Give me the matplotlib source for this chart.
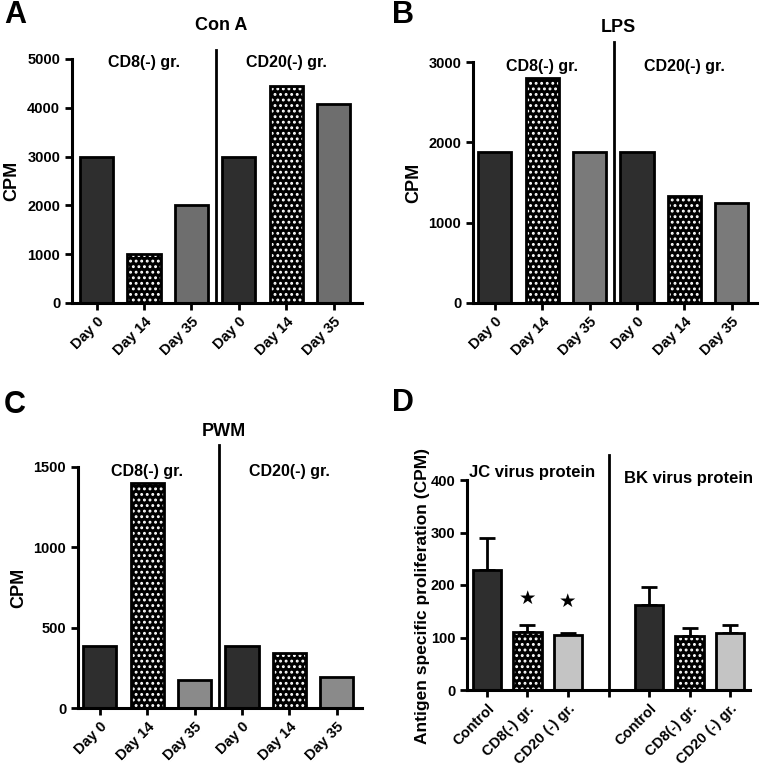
import matplotlib.pyplot as plt
import numpy as np

plt.rcParams['font.family'] = ['Liberation Sans', 'DejaVu Sans']
plt.rcParams['font.weight'] = 'bold'
plt.rcParams['hatch.linewidth'] = 1.3

days = ['Day 0', 'Day 14', 'Day 35', 'Day 0', 'Day 14', 'Day 35']
con_a = [3000, 1000, 2000, 3000, 4450, 4080]
lps = [1880, 2800, 1880, 1880, 1330, 1240]
pwm = [385, 1400, 175, 385, 340, 190]

groups = ['Control', 'CD8(-) gr.', 'CD20 (-) gr.']
jc_mean = [228, 111, 104]
jc_err = [62, 12, 5]
bk_mean = [162, 102, 108]
bk_err = [35, 17, 16]

W, H = 760, 777
fig = plt.figure(figsize=(W / 100, H / 100), dpi=100)


def px_axes(x0, y0, x1, y1):
    # pixel box (left, top, right, bottom) -> figure fraction
    return fig.add_axes([x0 / W, 1 - y1 / H, (x1 - x0) / W, (y1 - y0) / H])


def style(ax):
    for s in ['top', 'right']:
        ax.spines[s].set_visible(False)
    for s in ['left', 'bottom']:
        ax.spines[s].set_linewidth(2.2)
    ax.tick_params(width=2, length=5, labelsize=10.5)


def draw_bars(ax, x, vals, gray, width=0.7, err=None):
    kinds = ['dark', 'dots', 'gray'] * (len(vals) // 3)
    for xi, v, k in zip(x, vals, kinds):
        if k == 'dark':
            ax.bar(xi, v, width, color='#2e2e2e', edgecolor='black', linewidth=2, zorder=2)
        elif k == 'dots':
            ax.bar(xi, v, width, color='black', edgecolor='white', hatch='...', linewidth=0, zorder=2)
            ax.bar(xi, v, width, fill=False, edgecolor='black', linewidth=2, zorder=3)
        else:
            ax.bar(xi, v, width, color=gray, edgecolor='black', linewidth=2, zorder=2)
    if err is not None:
        for xi, v, e in zip(x, vals, err):
            ax.errorbar(xi, v, yerr=[[0], [e]], color='black', capsize=6,
                        elinewidth=2, capthick=2, zorder=1)


def day_panel(box, vals, ymax, step, gray, title, title_y, div_top, lim, lab_y):
    ax = px_axes(*box)
    x = np.arange(6)
    draw_bars(ax, x, vals, gray)
    ax.set_xlim(*lim)
    ax.set_ylim(0, ymax)
    ax.set_yticks(np.arange(0, ymax + 1, step))
    ax.set_xticks(x)
    ax.set_xticklabels(days, rotation=45, ha='right', rotation_mode='anchor',
                       fontweight='bold', fontsize=11.5)
    ax.set_ylabel('CPM', fontsize=13, fontweight='bold')
    ax.yaxis.set_label_coords(-0.177, 0.5)
    style(ax)
    ax.plot([2.52, 2.52], [0, ymax * div_top], color='black', lw=2, clip_on=False)
    ax.text(1, ymax * lab_y, 'CD8(-) gr.', ha='center', va='center', fontsize=11.5)
    ax.text(4, ymax * lab_y, 'CD20(-) gr.', ha='center', va='center', fontsize=11.5)
    fig.text((box[0] + box[2]) / 2 / W + 0.005, 1 - title_y / H, title, ha='center', va='center',
             fontsize=13, fontweight='bold')
    return ax


day_panel((72, 59, 362, 303), con_a, 5000, 1000, '#6e6e6e', 'Con A', 25, 1.037, (-0.52, 5.6), 0.985)
day_panel((473, 62, 757, 303), lps, 3000, 1000, '#7a7a7a', 'LPS', 27, 1.083, (-0.46, 5.53), 0.98)
day_panel((78, 467, 362, 708), pwm, 1500, 500, '#8a8a8a', 'PWM', 432, 1.09, (-0.46, 5.53), 0.98)

fig.text(4 / W, 1 - 15 / H, 'A', fontsize=22, fontweight='bold', va='center')
fig.text(392 / W, 1 - 15 / H, 'B', fontsize=22, fontweight='bold', va='center')
fig.text(4 / W, 1 - 405 / H, 'C', fontsize=22, fontweight='bold', va='center')
fig.text(392 / W, 1 - 403 / H, 'D', fontsize=22, fontweight='bold', va='center')

# panel D
ax = px_axes(467, 480, 750, 690)
xj = np.array([0, 1, 2])
xb = np.array([4, 5, 6])
draw_bars(ax, xj, jc_mean, '#c4c4c4', err=jc_err)
draw_bars(ax, xb, bk_mean, '#c4c4c4', err=bk_err)
ax.set_xlim(-0.49, 6.49)
ax.set_ylim(0, 400)
ax.set_yticks([0, 100, 200, 300, 400])
ax.set_xticks([0, 1, 2, 3, 4, 5, 6])
ax.set_xticklabels(groups + [''] + groups, rotation=45, ha='right', rotation_mode='anchor',
                   fontweight='bold', fontsize=10.5)
ax.set_ylabel('Antigen specific proliferation (CPM)', fontsize=12.5, fontweight='bold')
ax.yaxis.set_label_coords(-0.13, 0.45)
style(ax)
ax.tick_params(labelsize=10.5)
ax.plot([3, 3], [0, 447], color='black', lw=2, clip_on=False)
fig.text(469 / W, 1 - 472 / H, 'JC virus protein', ha='left', va='center', fontsize=12)
fig.text(753 / W, 1 - 478 / H, 'BK virus protein', ha='right', va='center', fontsize=12)
ax.text(1, 175, '★', ha='center', va='center', fontsize=14, family='DejaVu Sans')
ax.text(2, 168, '★', ha='center', va='center', fontsize=14, family='DejaVu Sans')

fig.savefig('out.png', dpi=100)
